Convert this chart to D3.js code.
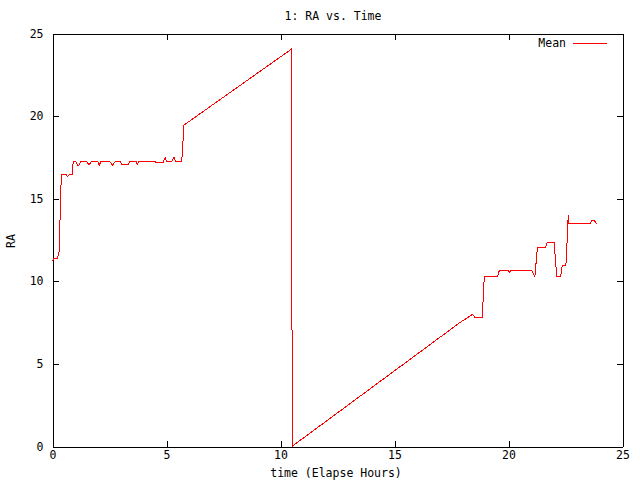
<!DOCTYPE html>
<html lang="en">
<head>
<meta charset="UTF-8">
<title>1: RA vs. Time</title>
<script src="https://d3js.org/d3.v7.min.js"></script>
<style>
  body { margin: 0; background: #fff; }
  svg text { font-family: "DejaVu Sans Mono", monospace; font-size: 11.5px; fill: #000; }
  .axis path, .axis line { stroke: #000; shape-rendering: crispEdges; }
</style>
</head>
<body>
<script>
// elapsed hours and mean RA
const hours = [0.0, 0.09, 0.23, 0.32, 0.35, 0.38, 0.43, 0.61, 0.67, 0.79, 0.88, 0.93, 1.05, 1.15, 1.26,
  1.54, 1.62, 1.71, 2.02, 2.07, 2.14, 2.54, 2.66, 2.76, 3.01, 3.06, 3.35, 3.42, 3.68, 3.74, 3.82,
  4.52, 4.54, 4.88, 4.96, 5.03, 5.25, 5.35, 5.43, 5.69, 5.79, 10.51, 10.51, 10.55,
  17.89, 18.45, 18.55, 18.87, 18.96, 19.55, 19.62, 20.01, 20.06, 20.12, 21.04, 21.18, 21.29,
  21.65, 21.72, 22.02, 22.14, 22.31, 22.38, 22.54, 22.62, 22.64, 22.67, 23.6, 23.68, 23.77, 23.89];
const raMean = [11.2, 11.35, 11.35, 11.8, 13.6, 15.5, 16.45, 16.45, 16.3, 16.45, 16.45, 17.2, 17.2, 16.95, 17.2,
  17.2, 17.0, 17.2, 17.2, 17.0, 17.2, 17.2, 17.0, 17.2, 17.2, 17.05, 17.05, 17.23, 17.23, 17.05, 17.23,
  17.23, 17.17, 17.17, 17.47, 17.23, 17.23, 17.47, 17.23, 17.23, 19.43, 24.03, 12.06, 0,
  7.47, 7.97, 7.77, 7.77, 10.27, 10.27, 10.63, 10.63, 10.5, 10.63, 10.63, 10.27, 12.03,
  12.03, 12.33, 12.33, 10.27, 10.27, 10.94, 10.94, 13.2, 13.98, 13.44, 13.44, 13.68, 13.68, 13.44];
const xTicks = [0, 5, 10, 15, 20, 25];
const yTicks = [0, 5, 10, 15, 20, 25];

const W = 640, H = 480;
const plotL = 52, plotR = 622, plotT = 33, plotB = 446;

const svg = d3.select("body").append("svg")
  .attr("width", W).attr("height", H);

const x = d3.scaleLinear().domain([0, 25]).range([plotL, plotR]);
const y = d3.scaleLinear().domain([0, 25]).range([plotB, plotT]);

// title
svg.append("text").attr("x", 333).attr("y", 20).attr("text-anchor", "middle").text("1: RA vs. Time");

// axes with inward ticks, mirrored on top/right
svg.append("g").attr("class", "axis").attr("transform", "translate(0.5," + (plotB + 0.5) + ")")
  .call(d3.axisBottom(x).tickValues(xTicks).tickSizeInner(-6).tickSizeOuter(0).tickPadding(4).tickFormat(d3.format("d")))
  .call(g => g.selectAll("text").attr("font-family", null).attr("font-size", null));
svg.append("g").attr("class", "axis").attr("transform", "translate(0.5," + (plotT + 0.5) + ")")
  .call(d3.axisTop(x).tickValues(xTicks).tickSizeInner(-6).tickSizeOuter(0).tickFormat(""));
svg.append("g").attr("class", "axis").attr("transform", "translate(" + (plotL + 0.5) + ",0.5)")
  .call(d3.axisLeft(y).tickValues(yTicks).tickSizeInner(-6).tickSizeOuter(0).tickPadding(9).tickFormat(d3.format("d")))
  .call(g => g.selectAll("text").attr("font-family", null).attr("font-size", null));
svg.append("g").attr("class", "axis").attr("transform", "translate(" + (plotR + 0.5) + ",0.5)")
  .call(d3.axisRight(y).tickValues(yTicks).tickSizeInner(-6).tickSizeOuter(0).tickFormat(""));

// axis titles
svg.append("text").attr("x", 336).attr("y", 477).attr("text-anchor", "middle").text("time (Elapse Hours)");
svg.append("text").attr("transform", "translate(15,241) rotate(-90)").attr("text-anchor", "middle").text("RA");

// series
const line = d3.line().x((d, i) => x(hours[i])).y(d => y(d));
svg.append("path").datum(raMean)
  .attr("fill", "none").attr("stroke", "#ff0000").attr("stroke-width", 1)
  .attr("shape-rendering", "crispEdges")
  .attr("d", line);

// legend
svg.append("text").attr("x", 566).attr("y", 47).attr("text-anchor", "end").text("Mean");
svg.append("line").attr("x1", 573).attr("x2", 607).attr("y1", 43.5).attr("y2", 43.5)
  .attr("stroke", "#ff0000").attr("stroke-width", 1);
</script>
</body>
</html>
